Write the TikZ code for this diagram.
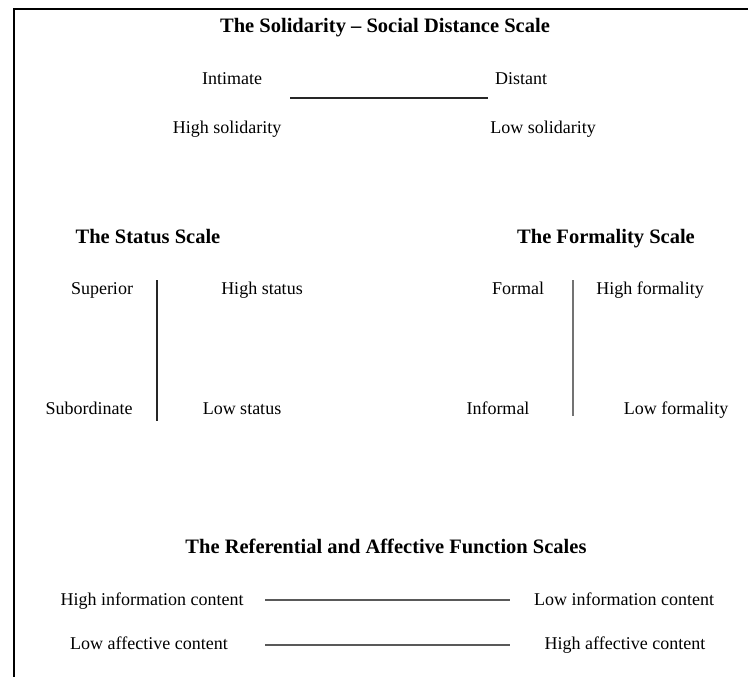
\documentclass[tikz,border=0pt]{standalone}
\usepackage{fontspec}
\setmainfont{Liberation Serif}
\begin{document}
\begin{tikzpicture}[x=1pt,y=-1pt,
  lbl/.style={inner sep=0pt,anchor=center,text height=12.5pt,text depth=4pt,font=\fontsize{18}{20}\selectfont},
  ttl/.style={inner sep=0pt,anchor=center,text height=14pt,text depth=4.5pt,font=\fontsize{20.5}{22}\selectfont\bfseries},
  scaleline/.style={line width=1.6pt,black!85},
  frame/.style={line width=2pt,black}]
\useasboundingbox (0,0) rectangle (748,677);
\fill[white] (0,0) rectangle (748,677);
% frame
\coordinate (ftl) at (14,9);
\coordinate (ftr) at (748,9);
\coordinate (fbl) at (14,677);
\draw[frame] (fbl) -- (ftl) -- (ftr);
% Solidarity
\node[ttl] (t1) at (385,28) {The Solidarity -- Social Distance Scale};
\node[lbl] (intimate) at (232,80) {Intimate};
\node[lbl] (distant) at (521,80) {Distant};
\node[lbl] (highsol) at (227,129) {High solidarity};
\node[lbl] (lowsol) at (543,129) {Low solidarity};
\coordinate (s1a) at (290,98);
\coordinate (s1b) at (488,98);
\draw[scaleline] (s1a) -- (s1b);
% Status
\node[ttl] (t2) at (148,239) {The Status Scale};
\node[lbl] (superior) at (102,290) {Superior};
\node[lbl] (highstat) at (262,290) {High status};
\node[lbl] (subord) at (89,410) {Subordinate};
\node[lbl] (lowstat) at (242,410) {Low status};
\coordinate (s2a) at (157,280);
\coordinate (s2b) at (157,421);
\draw[scaleline] (s2a) -- (s2b);
% Formality
\node[ttl] (t3) at (606,239) {The Formality Scale};
\node[lbl] (formal) at (518,290) {Formal};
\node[lbl] (highform) at (650,290) {High formality};
\node[lbl] (informal) at (498,410) {Informal};
\node[lbl] (lowform) at (676,410) {Low formality};
\coordinate (s3a) at (573,280);
\coordinate (s3b) at (573,416);
\draw[line width=1.1pt,black!55] (s3a) -- (s3b);
% Referential / affective
\node[ttl] (t4) at (386,549) {The Referential and Affective Function Scales};
\node[lbl] (highinfo) at (152,601) {High information content};
\node[lbl] (lowinfo) at (624,601) {Low information content};
\node[lbl] (lowaff) at (149,645) {Low affective content};
\node[lbl] (highaff) at (625,645) {High affective content};
\coordinate (s4a) at (265,600);
\coordinate (s4b) at (510,600);
\coordinate (s5a) at (265,645);
\coordinate (s5b) at (510,645);
\draw[line width=1.5pt,black!65] (s4a) -- (s4b);
\draw[line width=1.5pt,black!65] (s5a) -- (s5b);
\end{tikzpicture}
\end{document}
